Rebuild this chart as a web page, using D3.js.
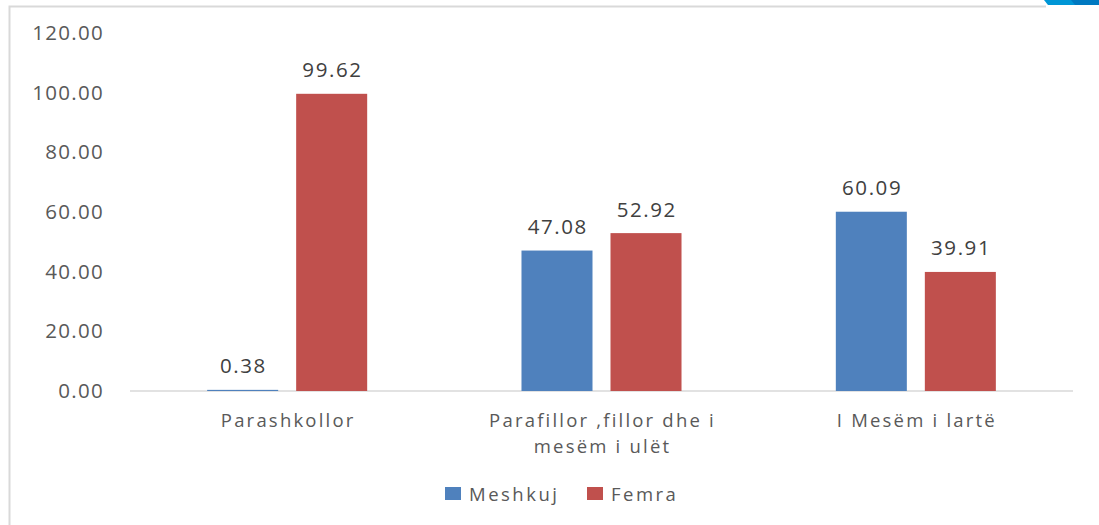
<!DOCTYPE html>
<html><head><meta charset="utf-8">
<script src="https://cdn.jsdelivr.net/npm/d3@7"></script>
<style>body{margin:0;background:#fff}svg{display:block}</style>
</head><body><svg id="c" width="1099" height="525"></svg>
<script>
const categories = [["Parashkollor"], ["Parafillor ,fillor dhe i", "mesëm i ulët"], ["I Mesëm i lartë"]];
const seriesNames = ["Meshkuj", "Femra"];
const meshkuj = [0.38, 47.08, 60.09];
const femra = [99.62, 52.92, 39.91];
const yTicks = [0, 20, 40, 60, 80, 100, 120];
const colors = ["#4F81BD", "#C0504D"];

const svg = d3.select("#c");
const font = "'Open Sans', 'Liberation Sans', sans-serif";

// frame
svg.append("path").attr("d", "M9.5,525 L9.5,6.5 L1046,6.5").attr("fill","none").attr("stroke","#D9D9D9").attr("stroke-width",2);
// corner decoration
svg.append("polygon").attr("points","1044,0 1099,0 1099,5 1048,5").attr("fill","#0096D6");
svg.append("polygon").attr("points","1071,0 1099,0 1099,5 1075,5").attr("fill","#0079C1");

const x0 = d3.scaleBand().domain(d3.range(3)).range([130, 1073]).paddingInner(0).paddingOuter(0);
const y = d3.scaleLinear().domain([0, 120]).range([391, 33]);
const x1 = d3.scaleBand().domain([0,1]).range([0, x0.bandwidth()]).paddingInner(0.2022).paddingOuter(0.8668);

// y axis labels
const yAxis = d3.axisLeft(y).tickValues(yTicks).tickFormat(d3.format(".2f")).tickSize(0).tickPadding(0);
const gy = svg.append("g").attr("transform","translate(104,0)").call(yAxis);
gy.select(".domain").remove();
gy.selectAll("text").attr("font-family",font).attr("font-size",20.5).attr("fill","#595959").attr("letter-spacing","1.3px");

// baseline
svg.append("line").attr("x1",130).attr("x2",1073).attr("y1",391).attr("y2",391).attr("stroke","#D9D9D9").attr("stroke-width",1.5);

const data = [meshkuj, femra];
data.forEach((vals, s) => {
  const g = svg.append("g");
  g.selectAll("rect").data(vals).join("rect")
    .attr("x",(d,i)=>x0(i)+x1(s))
    .attr("width",x1.bandwidth())
    .attr("y",d=>y(d))
    .attr("height",d=>y(0)-y(d))
    .attr("fill",colors[s]);
  g.selectAll("text").data(vals).join("text")
    .attr("x",(d,i)=>x0(i)+x1(s)+x1.bandwidth()/2+0.8)
    .attr("y",d=>y(d)-16.5)
    .attr("text-anchor","middle")
    .attr("font-family",font).attr("font-size",20.5).attr("fill","#404040").attr("letter-spacing","1.6px")
    .text(d=>d.toFixed(2));
});

// category labels
const gx = svg.append("g");
categories.forEach((lines, i) => {
  const cx = x0(i)+x0.bandwidth()/2 + 1;
  const t = gx.append("text").attr("x", cx).attr("y", 426.5)
    .attr("text-anchor","middle").attr("font-family",font).attr("font-size",18.5).attr("fill","#595959").attr("letter-spacing","2.2px");
  lines.forEach((l, k) => t.append("tspan").attr("x", cx).attr("dy", k===0?0:26).text(l));
});

// legend
const legendX = [445, 587];
seriesNames.forEach((n, s) => {
  svg.append("rect").attr("x",legendX[s]).attr("y",487).attr("width",16).attr("height",13).attr("fill",colors[s]);
  svg.append("text").attr("x",legendX[s]+24).attr("y",500.5).attr("font-family",font).attr("font-size",18.5).attr("fill","#595959").attr("letter-spacing","2.5px").text(n);
});
</script></body></html>
